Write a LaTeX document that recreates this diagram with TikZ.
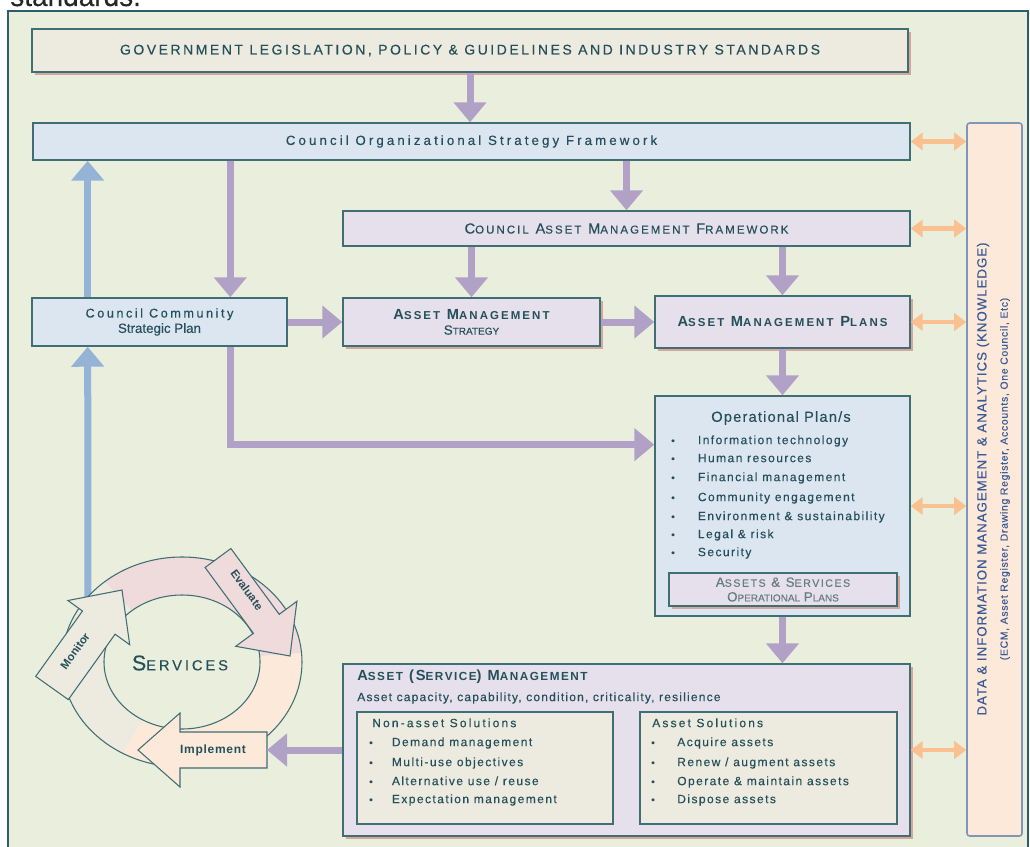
\documentclass[tikz,border=0pt]{standalone}
\usepackage{fontspec}
\setmainfont{Liberation Sans}[UprightFeatures={FakeBold=0.35}]
\usetikzlibrary{arrows.meta,calc}
\newcommand\ls[1]{\addfontfeatures{LetterSpace=#1}}
\newcommand\scs{7.5}
\newcommand\fsc[2]{#1{\fontsize{\scs}{12}\selectfont #2}}
\newcommand\bitem[2]{\makebox[#1][l]{\fontsize{7.5}{7}\selectfont\textbullet}#2}
\definecolor{bgc}{HTML}{EAEFDD}
\definecolor{framec}{HTML}{2C5F6B}
\definecolor{boxc}{HTML}{3F6E74}
\definecolor{beigec}{HTML}{EDEBE0}
\definecolor{bluefill}{HTML}{DCE6F1}
\definecolor{lavc}{HTML}{E5E0EC}
\definecolor{peachc}{HTML}{FDE9D9}
\definecolor{pinkc}{HTML}{EFDADC}
\definecolor{purpc}{HTML}{B2A1C7}
\definecolor{bluea}{HTML}{95B3D7}
\definecolor{orangec}{HTML}{FAC090}
\definecolor{txtc}{HTML}{25505A}
\definecolor{datatxt}{HTML}{3A5B95}
\definecolor{datab}{HTML}{8096B4}
\definecolor{shdc}{HTML}{D4A79A}
\definecolor{greytxt}{HTML}{667C82}
\begin{document}
\begin{tikzpicture}[x=0.75pt,y=-0.75pt,
  box/.style={draw=boxc, line width=1.1pt, inner sep=0pt, text=txtc, align=center},
  sz/.style 2 args={minimum width=#1*0.75pt, minimum height=#2*0.75pt},
  shd/.style={preaction={fill=shdc, transform canvas={xshift=2.2pt,yshift=-2.2pt}}},
  pa/.style={draw=purpc, line width=5.25pt, -{Triangle[width=24pt,length=15pt]}},
  ba/.style={draw=bluea, line width=5.25pt, -{Triangle[width=24pt,length=15pt]}},
  oa/.style={draw=orangec, line width=3.5pt, {Triangle[width=13pt,length=9pt]}-{Triangle[width=13pt,length=9pt]}},
  lst/.style={anchor=west, inner sep=0pt, text=txtc, text height=6.5pt, text depth=1.8pt, font=\fontsize{9}{11}\selectfont\ls{12}},
  arrline/.style={draw=boxc, line width=0.8pt, line join=miter},
]
\useasboundingbox (0,0) rectangle (1030,846);
\clip (0,0) rectangle (1030,846);
\fill[white] (0,0) rectangle (1030,846);
\node[anchor=base west, inner sep=0pt, text=black!85, font=\fontsize{21}{24}\selectfont] (stxt) at (10,6) {standards.};
\draw[framec, line width=1.5pt, fill=bgc] (8,11) rectangle (1028,900);

% boxes
\node[box, shd, fill=beigec, sz={876}{43}] (gov) at (470,50.5)
  {\fontsize{10.5}{12}\selectfont\ls{18}GOVERNMENT LEGISLATION, POLICY \& GUIDELINES AND INDUSTRY STANDARDS};
\node[box, fill=bluefill, sz={877}{37}] (org) at (471.5,141.5)
  {\fontsize{10}{12}\selectfont\ls{23}Council Organizational Strategy Framework};
\node[box, fill=lavc, sz={567}{35}] (camf) at (626.5,228.5)
  {\fontsize{11}{12}\selectfont\ls{18}\renewcommand\scs{8.6}\fsc{C}{OUNCIL} \fsc{A}{SSET} \fsc{M}{ANAGEMENT} \fsc{F}{RAMEWORK}};
\node[box, fill=bluefill, sz={255}{48}] (ccsp) at (159.5,322)
  {\fontsize{9.5}{14}\selectfont\ls{20}Council Community\\[-0.5pt]Strategic Plan};
\node[box, shd, fill=lavc, sz={257}{48}] (ams) at (471.5,322)
  {\fontsize{11}{14}\selectfont\bfseries\ls{18}\renewcommand\scs{8.6}\fsc{A}{SSET} \fsc{M}{ANAGEMENT}\\[-0.5pt]\fsc{S}{TRATEGY}};
\node[box, shd, fill=lavc, sz={255}{52}] (amp) at (782.5,322)
  {\fontsize{11}{12}\selectfont\bfseries\ls{18}\renewcommand\scs{8.6}\fsc{A}{SSET} \fsc{M}{ANAGEMENT} \fsc{P}{LANS}};
\node[box, fill=bluefill, sz={255}{220}] (op) at (782.5,506) {};
\node[box, shd, fill=lavc, text=greytxt, sz={228}{33}] (opin) at (783,589.5)
  {\fontsize{10}{12}\selectfont\ls{14}\renewcommand\scs{8}\fsc{A}{SSETS} \& \fsc{S}{ERVICES}\\[-1pt]\fsc{O}{PERATIONAL} \fsc{P}{LANS}};
\node[box, shd, fill=lavc, sz={567}{172}] (asm) at (626.5,750) {};
\node[box, fill=beigec, sz={256}{112}] (nas) at (485,768) {};
\node[box, fill=beigec, sz={257}{112}] (as) at (768.5,768) {};
\node[draw=datab, line width=1.2pt, rounded corners=2pt, fill=peachc, inner sep=0pt, sz={55}{713}] (data) at (994.5,479.5) {};

% data text
\node[inner sep=0pt, rotate=90, text=datatxt, font=\fontsize{10}{12}\selectfont\ls{7}] (dt1) at (983,479)
  {DATA \& INFORMATION MANAGEMENT \& ANALYTICS (KNOWLEDGE)};
\node[inner sep=0pt, rotate=90, text=datatxt, font=\fontsize{7.8}{10}\selectfont\ls{7}] (dt2) at (1005,479)
  {(ECM, Asset Register, Drawing Register, Accounts, One Council, Etc)};

% operational plans text
\node[inner sep=0pt, text=txtc, font=\fontsize{11}{13}\selectfont\ls{8}] (optitle) at (781,418) {Operational Plan/s};
\foreach \yy/\itm [count=\i] in {441/Information technology, 459/Human resources, 478/Financial management,
  498/Community engagement, 517/Environment \& sustainability, 535/Legal \& risk, 553/Security}
  \node[lst] (opi\i) at (671,\yy) {\bitem{20pt}{\itm}};

% asset service management text
\node[anchor=west, inner sep=0pt, text=txtc, font=\fontsize{11}{12}\selectfont\bfseries\ls{13}] (asmt) at (357,677)
  {\renewcommand\scs{8.8}\fsc{A}{SSET} (\fsc{S}{ERVICE}) \fsc{M}{ANAGEMENT}};
\node[anchor=west, inner sep=0pt, text=txtc, font=\fontsize{9}{11}\selectfont\ls{10}] (asms) at (357,698)
  {Asset capacity, capability, condition, criticality, resilience};
\node[lst, font=\fontsize{9}{11}\selectfont\ls{18}] (nast) at (372,724) {Non-asset Solutions};
\node[lst, font=\fontsize{9}{11}\selectfont\ls{18}] (ast) at (652,724) {Asset Solutions};
\foreach \yy/\itm [count=\i] in {743/Demand management, 763/Multi-use objectives, 782/{Alternative use / reuse}, 800/Expectation management}
  \node[lst] (nasi\i) at (369,\yy) {\bitem{17pt}{\itm}};
\foreach \yy/\itm [count=\i] in {743/Acquire assets, 763/{Renew / augment assets}, 782/Operate \& maintain assets, 800/Dispose assets}
  \node[lst] (asi\i) at (651,\yy) {\bitem{19.5pt}{\itm}};

% services cycle
\coordinate (ringtop) at (88,600);
\coordinate (implR) at (267,750);
\coordinate (ccspC) at ($(ccsp.north west)!0.22!(ccsp.north east)$);
\coordinate (ccspD) at ($(ccsp.south west)!0.22!(ccsp.south east)$);
\draw[ba] (ccspC) -- (ccspC |- org.south);
\draw[ba] (ringtop) -- (ccspD);

\begin{scope}[shift={(182,662)}]
  \fill[pinkc] (230:120 and 105) arc[start angle=230,end angle=355,x radius=120,y radius=105]
     -- (355:78 and 67) arc[start angle=355,end angle=230,x radius=78,y radius=67] -- cycle;
  \fill[peachc] (355:120 and 105) arc[start angle=355,end angle=480,x radius=120,y radius=105]
     -- (480:78 and 67) arc[start angle=480,end angle=355,x radius=78,y radius=67] -- cycle;
  \fill[beigec] (120:120 and 105) arc[start angle=120,end angle=230,x radius=120,y radius=105]
     -- (230:78 and 67) arc[start angle=230,end angle=120,x radius=78,y radius=67] -- cycle;
  \draw[arrline] (0,0) ellipse[x radius=120,y radius=105];
  \draw[arrline] (0,0) ellipse[x radius=78,y radius=67];
\end{scope}
\draw[arrline, fill=beigec] (68.3,699.6) -- (115.1,634.2) -- (129.7,644.7) -- (122,590)
  -- (67.9,600.5) -- (82.5,611.0) -- (35.7,676.4) -- cycle;
\draw[arrline, fill=pinkc] (230.9,548.5) -- (279.2,614.3) -- (296.9,601.3) -- (290,656)
  -- (235.7,646.3) -- (253.4,633.3) -- (205.1,567.5) -- cycle;
\draw[arrline, fill=peachc] (implR |- 0,732) -- (180,732) -- (180,713) -- (138,750) -- (180,787)
  -- (180,768) -- (implR |- 0,768) -- cycle;
\node[inner sep=0pt, rotate=54.5, text=txtc, font=\fontsize{8.5}{10}\selectfont\bfseries] (monl) at (75,651) {Monitor};
\node[inner sep=0pt, rotate=-54, text=txtc, font=\fontsize{8.5}{10}\selectfont\bfseries] (evl) at (247,590) {Evaluate};
\node[inner sep=0pt, text=txtc, font=\fontsize{9}{10}\selectfont\bfseries\ls{6}] (impl) at (213,750) {Implement};
\node[inner sep=0pt, text=txtc, font=\fontsize{11}{12}\selectfont\ls{20}] (serv) at (180,663)
  {{\fontsize{16}{16}\selectfont S}ERVICES};

% purple connectors
\coordinate (ccspA) at ($(ccsp.north west)!0.776!(ccsp.north east)$);
\coordinate (ccspB) at ($(ccsp.south west)!0.776!(ccsp.south east)$);
\coordinate (opW) at ($(op.north west)!0.223!(op.south west)$);
\draw[pa] (gov.south) -- (gov.south |- org.north);
\draw[pa] (org.south -| ccspA) -- (ccspA);
\draw[pa] (camf.north |- org.south) -- (camf.north);
\draw[pa] (ams.north |- camf.south) -- (ams.north);
\draw[pa] (amp.north |- camf.south) -- (amp.north);
\draw[pa] (ccsp.east) -- (ams.west);
\draw[pa] (ams.east) -- (amp.west);
\draw[pa] (amp.south) -- (op.north);
\draw[pa] (ccspB) |- (opW);
\draw[pa] (op.south) -- (op.south |- asm.north);
\draw[pa] (asm.west) -- (implR);

% orange connectors
\foreach \n in {org,camf,amp,op,asm}
  \draw[oa] (\n.east) -- (\n.east -| data.west);
\end{tikzpicture}
\end{document}
